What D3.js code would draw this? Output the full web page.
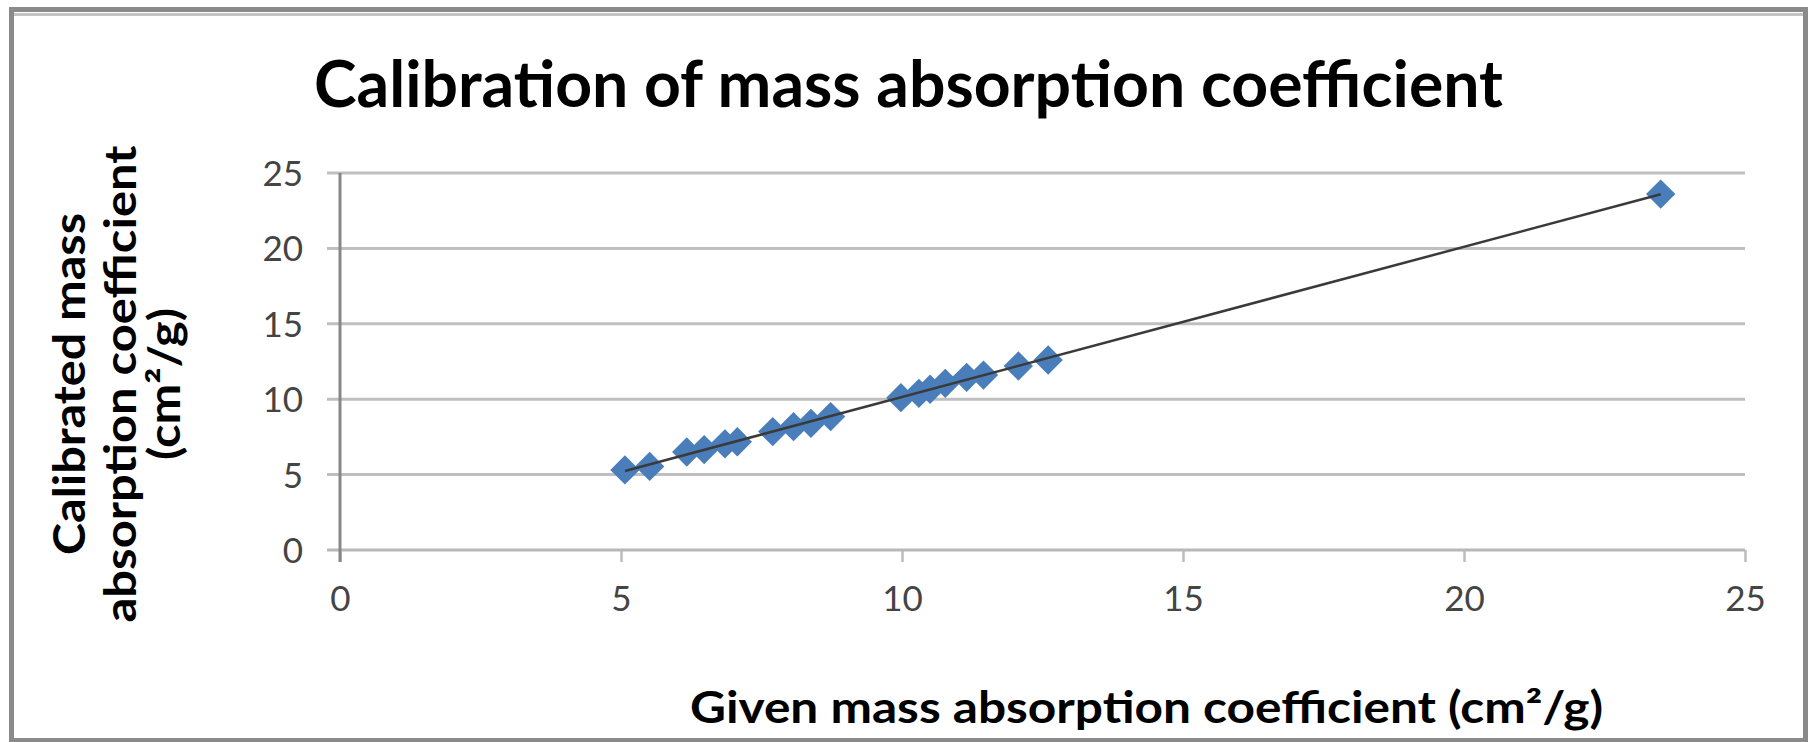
<!DOCTYPE html>
<html>
<head>
<meta charset="utf-8">
<script src="https://cdn.jsdelivr.net/npm/d3@7"></script>
<style>
  body { margin: 0; background: #fff; }
  svg { display: block; }
</style>
</head>
<body>
<div id="chart"></div>
<script>
// Valeurs
const givenValues = [5.07, 5.51, 6.17, 6.48, 6.85, 7.07, 7.70, 8.07, 8.38, 8.73, 9.98, 10.30, 10.50, 10.77, 11.15, 11.45, 12.07, 12.60, 23.50];
const calibratedValues = [5.31, 5.54, 6.50, 6.66, 7.04, 7.18, 7.85, 8.18, 8.40, 8.85, 10.10, 10.39, 10.66, 11.05, 11.45, 11.60, 12.20, 12.60, 23.60];
const tickValues = [0, 5, 10, 15, 20, 25];

const chartTitle = "Calibration of mass absorption coefficient";
const xTitle = "Given mass absorption coefficient (cm²/g)";
const yTitleLines = ["Calibrated mass", "absorption coefficient", "(cm²/g)"];

const width = 1810;
const height = 742;
const font = "Lato, 'Open Sans', sans-serif";

const points = givenValues.map((g, i) => ({ x: g, y: calibratedValues[i] }));

const svg = d3.select("#chart")
  .append("svg")
  .attr("width", width)
  .attr("height", height);

svg.append("rect")
  .attr("width", width)
  .attr("height", height)
  .attr("fill", "#fff");

// Cadre du graphique
svg.append("rect")
  .attr("x", 11.5)
  .attr("y", 9.5)
  .attr("width", 1794)
  .attr("height", 731)
  .attr("fill", "none")
  .attr("stroke", "#8a8a8a")
  .attr("stroke-width", 5);
svg.append("line")
  .attr("x1", 14).attr("x2", 1803)
  .attr("y1", 14.5).attr("y2", 14.5)
  .attr("stroke", "#c4c4c4")
  .attr("stroke-width", 3);

// Echelles
const x = d3.scaleLinear().domain([0, 25]).range([340, 1745]);
const y = d3.scaleLinear().domain([0, 25]).range([550, 173]);

// Lignes de grille
svg.append("g")
  .selectAll("line")
  .data(tickValues.filter(d => d > 0))
  .enter()
  .append("line")
  .attr("x1", x(0) - 13)
  .attr("x2", x(25))
  .attr("y1", d => y(d))
  .attr("y2", d => y(d))
  .attr("stroke", "#bfbfbf")
  .attr("stroke-width", 3);

// Axe X
const xAxis = svg.append("g")
  .attr("transform", `translate(0,${y(0)})`)
  .call(d3.axisBottom(x).tickValues(tickValues).tickSize(12).tickSizeOuter(0));
xAxis.select(".domain").remove();
xAxis.selectAll(".tick line").attr("stroke", "#bdbdbd").attr("stroke-width", 2.5);
xAxis.selectAll(".tick text")
  .attr("y", 61)
  .attr("dy", 0)
  .attr("fill", "#444")
  .style("font-family", font)
  .style("font-size", "35px");
svg.append("line")
  .attr("x1", x(0) - 13)
  .attr("x2", x(25))
  .attr("y1", y(0))
  .attr("y2", y(0))
  .attr("stroke", "#b8b8b8")
  .attr("stroke-width", 3);

// Axe Y
const yAxis = svg.append("g")
  .attr("transform", `translate(${x(0)},0)`)
  .call(d3.axisLeft(y).tickValues(tickValues).tickSize(13).tickSizeOuter(0));
yAxis.select(".domain").remove();
yAxis.selectAll(".tick line").remove();
yAxis.selectAll(".tick text")
  .attr("x", -37)
  .attr("dy", 12.5)
  .attr("fill", "#444")
  .style("font-family", font)
  .style("font-size", "35px");
svg.append("line")
  .attr("x1", x(0))
  .attr("x2", x(0))
  .attr("y1", y(25))
  .attr("y2", y(0) + 12)
  .attr("stroke", "#878787")
  .attr("stroke-width", 3);

// Marqueurs en losange
const diamond = d3.symbol().type(d3.symbolSquare).size(430);
svg.append("g")
  .selectAll("path")
  .data(points)
  .enter()
  .append("path")
  .attr("d", diamond)
  .attr("transform", d => `translate(${x(d.x)},${y(d.y)}) rotate(45)`)
  .attr("fill", "#4a7ebb");

// Courbe de tendance linéaire (moindres carrés)
const mx = d3.mean(points, d => d.x);
const my = d3.mean(points, d => d.y);
const slope = d3.sum(points, d => (d.x - mx) * (d.y - my)) / d3.sum(points, d => (d.x - mx) ** 2);
const intercept = my - slope * mx;
const xExtent = d3.extent(points, d => d.x);
svg.append("path")
  .datum(xExtent.map(v => ({ x: v, y: intercept + slope * v })))
  .attr("d", d3.line().x(d => x(d.x)).y(d => y(d.y)))
  .attr("fill", "none")
  .attr("stroke", "#3a3a3a")
  .attr("stroke-width", 2.5);

// Titres
svg.append("text")
  .attr("x", 908.5)
  .attr("y", 107)
  .attr("text-anchor", "middle")
  .attr("textLength", 1189)
  .attr("lengthAdjust", "spacingAndGlyphs")
  .style("font-family", font)
  .style("font-weight", "bold")
  .style("font-size", "65px")
  .attr("fill", "#000")
  .text(chartTitle);

svg.append("text")
  .attr("x", 1146.5)
  .attr("y", 723)
  .attr("text-anchor", "middle")
  .attr("textLength", 913)
  .attr("lengthAdjust", "spacingAndGlyphs")
  .style("font-family", font)
  .style("font-weight", "bold")
  .style("font-size", "43px")
  .attr("fill", "#000")
  .text(xTitle);

const yLineLengths = [342, 477, 152];
const yLineBaselines = [85, 136, 180];
svg.append("g")
  .selectAll("text")
  .data(yTitleLines)
  .enter()
  .append("text")
  .attr("transform", (d, i) => `translate(${yLineBaselines[i]},384) rotate(-90)`)
  .attr("text-anchor", "middle")
  .attr("textLength", (d, i) => yLineLengths[i])
  .attr("lengthAdjust", "spacingAndGlyphs")
  .style("font-family", font)
  .style("font-weight", "bold")
  .style("font-size", "43px")
  .attr("fill", "#000")
  .text(d => d);
</script>
</body>
</html>
